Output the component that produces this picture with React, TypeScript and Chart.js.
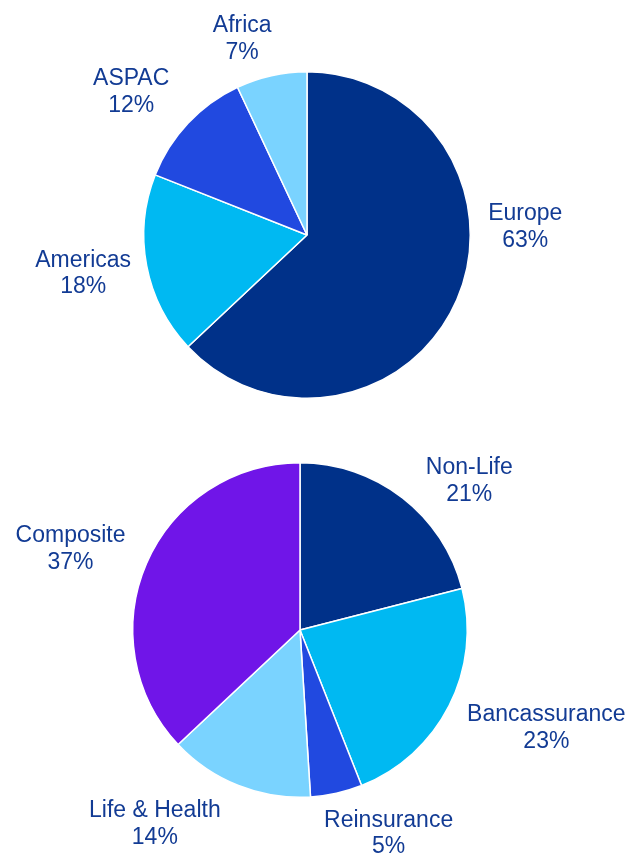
import React, { useEffect, useRef } from "react";
import { Chart, registerables } from "chart.js";

Chart.register(...registerables);

// Region split (top pie)
const regionLabels = ["Europe", "Americas", "ASPAC", "Africa"];
const regionValues = [63, 18, 12, 7];
const regionColors = ["#003189", "#00B9F2", "#2149E0", "#7AD3FF"];

// Business line split (bottom pie)
const segmentLabels = ["Non-Life", "Bancassurance", "Reinsurance", "Life & Health", "Composite"];
const segmentValues = [21, 23, 5, 14, 37];
const segmentColors = ["#003189", "#00B9F2", "#2149E0", "#7AD3FF", "#7015E8"];

// Label anchor offsets in units of pie radius (placement only)
const regionLabelOffsets = [
  [1.337, -0.07],
  [-1.371, 0.215],
  [-1.077, -0.896],
  [-0.397, -1.22],
];
const segmentLabelOffsets = [
  [1.012, -0.91],
  [1.473, 0.565],
  [0.53, 1.196],
  [-0.868, 1.142],
  [-1.372, -0.506],
];

const TEXT_COLOR = "#123B94";
const FONT = "23px 'Liberation Sans', Arial, sans-serif";
const V_STRETCH = 1.07;
const LINE_GAP = 26.7;

function makeLabelPlugin(offsets: number[][]) {
  return {
    id: "outsideLabels",
    afterDatasetsDraw(chart: any) {
      const meta = chart.getDatasetMeta(0);
      const labels = chart.data.labels as string[];
      const values = chart.data.datasets[0].data as number[];
      const ctx = chart.ctx;
      const draw = (text: string, x: number, y: number) => {
        ctx.save();
        ctx.translate(x, y);
        ctx.scale(1, V_STRETCH);
        ctx.fillText(text, 0, 0);
        ctx.restore();
      };
      ctx.save();
      ctx.font = FONT;
      ctx.fillStyle = TEXT_COLOR;
      ctx.textAlign = "center";
      ctx.textBaseline = "alphabetic";
      meta.data.forEach((arc: any, i: number) => {
        const r = arc.outerRadius;
        const cx = arc.x + offsets[i][0] * r;
        const cy = arc.y + offsets[i][1] * r;
        draw(labels[i], cx, cy - 3.5);
        draw(values[i] + "%", cx, cy - 3.5 + LINE_GAP);
      });
      ctx.restore();
    },
  };
}

function PieChart(props: {
  labels: string[];
  values: number[];
  colors: string[];
  offsets: number[][];
  width: number;
  height: number;
  padding: { left: number; right: number; top: number; bottom: number };
  top: number;
}) {
  const ref = useRef<HTMLCanvasElement | null>(null);
  useEffect(() => {
    if (!ref.current) return;
    const chart = new Chart(ref.current, {
      type: "pie",
      data: {
        labels: props.labels,
        datasets: [
          {
            data: props.values,
            backgroundColor: props.colors,
            borderColor: "#ffffff",
            borderWidth: 1.5,
            hoverOffset: 0,
          },
        ],
      },
      options: {
        responsive: false,
        animation: false,
        layout: { padding: props.padding },
        plugins: {
          legend: { display: false },
          tooltip: { enabled: false },
          title: { display: false },
        },
      },
      plugins: [makeLabelPlugin(props.offsets)],
    });
    return () => chart.destroy();
  }, []);
  return (
    <canvas
      ref={ref}
      width={props.width}
      height={props.height}
      style={{ position: "absolute", left: 0, top: props.top, width: props.width, height: props.height }}
    />
  );
}

export default function App() {
  return (
    <div style={{ position: "absolute", left: 0, top: 0, width: 634, height: 854, background: "#ffffff" }}>
      <PieChart
        labels={regionLabels}
        values={regionValues}
        colors={regionColors}
        offsets={regionLabelOffsets}
        width={634}
        height={440}
        top={0}
        padding={{ left: 143, right: 163, top: 71, bottom: 41 }}
      />
      <PieChart
        labels={segmentLabels}
        values={segmentValues}
        colors={segmentColors}
        offsets={segmentLabelOffsets}
        width={634}
        height={424}
        top={430}
        padding={{ left: 132, right: 166, top: 32, bottom: 56 }}
      />
    </div>
  );
}
